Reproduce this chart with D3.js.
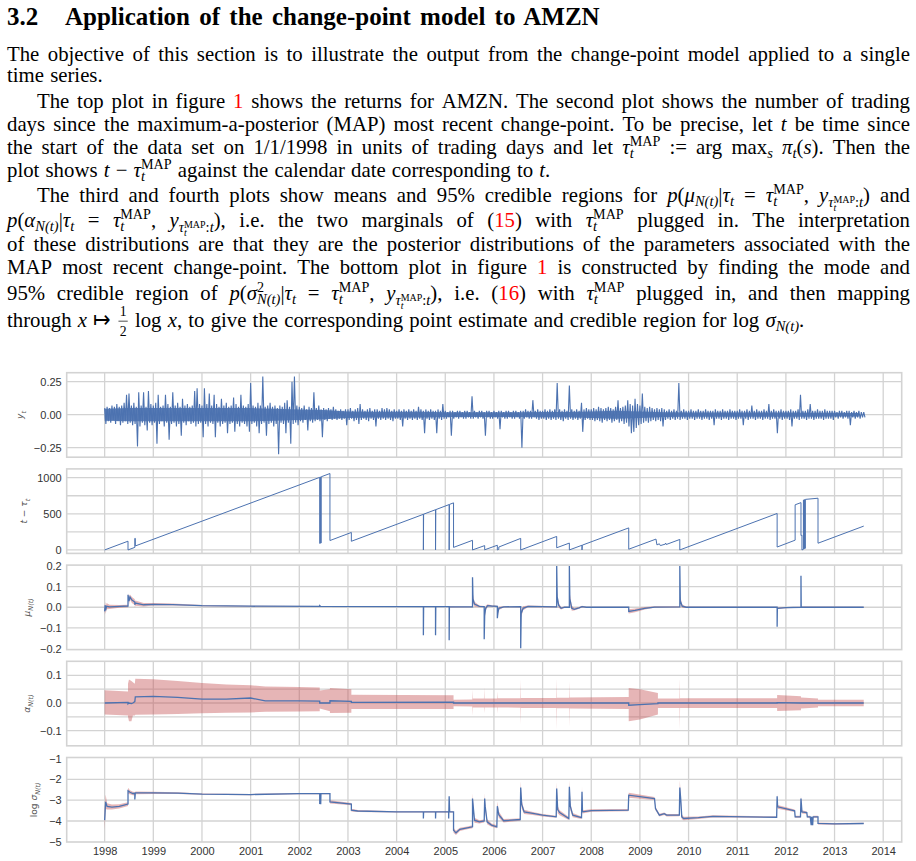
<!DOCTYPE html>
<html>
<head>
<meta charset="utf-8">
<script src="https://cdn.jsdelivr.net/npm/d3@7"></script>
<style>
  body { margin: 0; background: #fff; }
  svg { display: block; }
</style>
</head>
<body>
<svg id="page" width="916" height="861"></svg>
<script>
// ---------------- data ----------------
var yearTicks = [1998, 1999, 2000, 2001, 2002, 2003, 2004, 2005, 2006, 2007,
                 2008, 2009, 2010, 2011, 2012, 2013, 2014];

// returns, in percent: local highs / lows every 0.05 year from 1998.0
var retStart = 1998, retStep = 0.05;
var retHi = [
  5,6,5,7,6,8,6,7,9,15,16,7,9,6,17,7,17,6,18,8,
  7,9,15,6,7,15,8,6,17,7,9,6,12,7,8,6,7,18,20,8,
  7,20,8,16,7,15,8,6,12,7,9,6,7,13,8,6,15,7,6,8,
  24,7,6,9,7,29,6,7,9,6,7,5,7,6,9,11,6,25,29,7,
  6,5,7,4,6,5,17,5,7,4,5,4,5,4,6,4,3,4,3,4,
  4,5,3,4,5,8,4,3,4,5,3,4,4,3,5,4,5,4,3,4,
  3,4,3,4,3,4,3,4,3,6,4,3,4,3,4,3,3,4,3,8,
  3,2,3,3,2,3,3,2,3,3,2,14,3,2,3,3,2,3,3,2,
  3,2,3,3,2,3,3,2,3,3,2,3,3,4,3,3,11,3,4,3,
  3,4,3,4,3,4,24,4,3,4,3,22,4,3,4,3,9,4,5,4,
  4,5,4,6,5,4,5,6,5,4,6,11,5,6,7,11,8,7,12,8,
  7,16,6,5,6,5,4,5,4,5,4,3,4,3,4,3,24,3,4,3,
  3,4,3,3,4,3,3,4,3,3,3,4,3,3,4,3,3,4,3,3,
  3,4,3,3,4,3,7,3,4,3,3,4,3,8,3,4,3,3,4,3,
  3,3,4,3,3,4,15,3,3,4,8,3,3,4,3,3,4,3,3,3,
  3,2,3,3,2,3,3,2,3,2,3,2,2
];
var retLo = [
  -7,-5,-6,-4,-7,-5,-8,-6,-5,-7,-6,-8,-7,-24,-9,-6,-8,-12,-6,-8,
  -6,-22,-7,-5,-9,-6,-19,-7,-6,-9,-7,-16,-6,-8,-5,-7,-6,-9,-7,-6,
  -17,-7,-9,-6,-7,-17,-6,-9,-7,-6,-14,-7,-6,-13,-7,-9,-6,-7,-9,-13,
  -7,-6,-9,-14,-7,-6,-16,-7,-6,-9,-7,-30,-6,-7,-14,-6,-22,-7,-6,-8,
  -5,-6,-4,-12,-5,-6,-5,-4,-5,-17,-4,-5,-3,-4,-3,-4,-3,-4,-3,-8,
  -4,-3,-5,-4,-7,-4,-3,-4,-5,-3,-4,-9,-3,-4,-3,-4,-3,-4,-5,-3,
  -3,-4,-9,-3,-4,-3,-4,-3,-4,-3,-4,-14,-3,-4,-3,-4,-14,-3,-4,-3,
  -3,-2,-16,-3,-2,-3,-2,-3,-3,-2,-3,-3,-2,-3,-2,-3,-16,-2,-3,-3,
  -2,-3,-11,-2,-3,-3,-2,-3,-3,-2,-3,-25,-3,-2,-3,-3,-2,-3,-4,-3,
  -3,-4,-3,-4,-3,-4,-3,-4,-5,-3,-4,-3,-4,-3,-4,-3,-13,-4,-3,-4,
  -4,-5,-4,-5,-6,-4,-5,-4,-6,-5,-4,-6,-5,-7,-6,-9,-14,-13,-10,-8,
  -7,-6,-5,-6,-5,-4,-5,-4,-5,-9,-4,-3,-4,-3,-4,-3,-4,-3,-3,-4,
  -3,-3,-4,-3,-3,-4,-3,-3,-4,-3,-8,-3,-3,-4,-3,-3,-4,-3,-3,-4,
  -3,-3,-8,-3,-4,-3,-3,-4,-3,-3,-4,-3,-3,-4,-3,-3,-14,-3,-4,-3,
  -3,-4,-9,-3,-3,-4,-3,-3,-4,-3,-3,-4,-3,-3,-3,-4,-3,-3,-3,-4,
  -2,-3,-2,-3,-2,-3,-8,-2,-3,-2,-3,-2,-2
];
// half-width of the solid core of the returns trace, percent, every 0.5 year
var retCoreStep = 0.5;
var retCore = [4.5, 5, 5, 5, 5, 5, 5, 4.5, 4, 3.5, 2.5, 2.2, 2.2, 2.2, 1.8, 1.8,
               1.8, 1.8, 2, 2, 2.5, 3, 2.5, 1.8, 1.6, 1.6, 1.6, 1.6, 1.6, 1.5, 1.4, 1.3];

// t - tau_t (trading days): [year, value]
var runLen = [
  [1998.00, 0], [1998.48, 121], [1998.48, 0], [1998.62, 35], [1998.62, 160],
  [1998.63, 160], [1998.63, 55], [2002.42, 1005], [2002.42, 90], [2002.43, 92],
  [2002.43, 1008], [2002.44, 1010], [2002.44, 95], [2002.45, 97], [2002.45, 1013],
  [2002.63, 1058], [2002.63, 130], [2003.07, 242], [2003.07, 120], [2004.55, 493],
  [2004.55, 0], [2004.555, 495], [2004.80, 557], [2004.80, 0], [2004.805, 558],
  [2005.08, 628], [2005.08, 0], [2005.085, 630], [2005.17, 652], [2005.17, 35],
  [2005.56, 133], [2005.56, 0], [2005.81, 60], [2005.81, 2], [2006.07, 65],
  [2006.07, 0], [2006.10, 8], [2006.10, 40], [2006.55, 160], [2006.55, 0],
  [2007.29, 187], [2007.29, 30], [2007.55, 95], [2007.55, 0], [2007.81, 65],
  [2007.81, 0], [2007.815, 66], [2008.77, 305], [2008.77, 10], [2009.33, 150],
  [2009.35, 70], [2009.40, 85], [2009.42, 60], [2009.52, 80], [2009.53, 95],
  [2009.54, 75], [2009.82, 145], [2009.82, 0], [2011.82, 505], [2011.82, 40],
  [2012.19, 135], [2012.19, 625], [2012.31, 655], [2012.31, 200], [2012.33, 205],
  [2012.33, 0], [2012.36, 8], [2012.36, 690], [2012.37, 692], [2012.37, 15],
  [2012.38, 18], [2012.38, 695], [2012.39, 697], [2012.39, 20], [2012.40, 23],
  [2012.40, 700], [2012.66, 716], [2012.66, 93], [2013.60, 330]
];

// mu_N(t): [year, mean, spread of 95% region]
var muRows = [
  [1998.00, -0.020, 0.020], [1998.01, 0.010, 0.018], [1998.02, -0.015, 0.018],
  [1998.04, 0.005, 0.015], [1998.10, 0.002, 0.010], [1998.30, 0.004, 0.007],
  [1998.48, 0.006, 0.006], [1998.48, 0.060, 0.006], [1998.50, 0.030, 0.018],
  [1998.52, 0.050, 0.012], [1998.56, 0.035, 0.014], [1998.62, 0.025, 0.014],
  [1998.62, 0.012, 0.014], [1998.63, 0.020, 0.013], [1998.80, 0.012, 0.008],
  [1999.00, 0.014, 0.006], [1999.40, 0.013, 0.005], [2000.00, 0.008, 0.003],
  [2001.00, 0.005, 0.002], [2002.42, 0.004, 0.002], [2002.42, 0.008, 0.003],
  [2002.44, 0.004, 0.002], [2004.55, 0.003, 0.002], [2004.55, -0.135, 0.000],
  [2004.555, 0.003, 0.002], [2004.80, 0.003, 0.002], [2004.80, -0.135, 0.000],
  [2004.805, 0.003, 0.002], [2005.08, 0.003, 0.002], [2005.08, -0.160, 0.000],
  [2005.085, 0.002, 0.003], [2005.56, 0.002, 0.002], [2005.56, 0.145, 0.000],
  [2005.57, 0.040, 0.020], [2005.60, 0.015, 0.012], [2005.70, 0.004, 0.004],
  [2005.80, 0.003, 0.003], [2005.80, -0.155, 0.000], [2005.81, -0.040, 0.020],
  [2005.83, -0.005, 0.012], [2005.87, 0.008, 0.006], [2005.95, 0.006, 0.004],
  [2006.07, 0.004, 0.003], [2006.07, -0.053, 0.000], [2006.08, -0.030, 0.015],
  [2006.10, -0.005, 0.008], [2006.20, 0.002, 0.003], [2006.55, 0.003, 0.002],
  [2006.55, -0.198, 0.000], [2006.56, -0.030, 0.020], [2006.60, -0.005, 0.010],
  [2006.70, 0.004, 0.004], [2007.29, 0.002, 0.003], [2007.29, 0.200, 0.000],
  [2007.30, 0.050, 0.025], [2007.33, 0.010, 0.012], [2007.38, -0.005, 0.006],
  [2007.45, 0.000, 0.004], [2007.55, 0.000, 0.003], [2007.55, 0.200, 0.000],
  [2007.56, 0.040, 0.025], [2007.60, -0.005, 0.012], [2007.65, -0.010, 0.006],
  [2007.75, -0.003, 0.004], [2007.81, 0.003, 0.004], [2007.90, 0.000, 0.003],
  [2008.77, 0.000, 0.003], [2008.77, -0.020, 0.010], [2008.90, -0.015, 0.009],
  [2009.10, -0.005, 0.006], [2009.30, 0.001, 0.004], [2009.82, 0.002, 0.003],
  [2009.82, 0.200, 0.000], [2009.83, 0.030, 0.022], [2009.87, 0.005, 0.008],
  [2009.95, 0.000, 0.004], [2011.82, 0.000, 0.002], [2011.82, -0.094, 0.000],
  [2011.825, -0.005, 0.004], [2012.00, -0.002, 0.003], [2012.31, 0.000, 0.002],
  [2012.31, 0.152, 0.000], [2012.315, 0.001, 0.003], [2013.60, 0.000, 0.002]
];

// alpha_N(t): [year, mean, lower, upper]
var alphaRows = [
  [1998.00, 0.000, -0.042, 0.046], [1998.48, 0.002, -0.045, 0.042],
  [1998.48, -0.003, -0.050, 0.070], [1998.50, 0.000, -0.066, 0.085],
  [1998.55, -0.002, -0.066, 0.080], [1998.58, 0.000, -0.045, 0.075],
  [1998.62, 0.005, -0.045, 0.070], [1998.63, 0.022, -0.043, 0.088],
  [1999.00, 0.024, -0.042, 0.086], [1999.50, 0.020, -0.040, 0.080],
  [2000.00, 0.014, -0.037, 0.072], [2000.50, 0.014, -0.035, 0.067],
  [2001.00, 0.018, -0.034, 0.064], [2001.30, 0.008, -0.032, 0.060],
  [2002.00, 0.008, -0.031, 0.058], [2002.42, 0.007, -0.030, 0.056],
  [2002.42, 0.000, -0.020, 0.045], [2002.63, 0.000, -0.030, 0.050],
  [2002.63, 0.008, -0.036, 0.054], [2003.07, 0.006, -0.035, 0.050],
  [2003.07, 0.002, -0.022, 0.030], [2005.17, 0.003, -0.022, 0.028],
  [2005.17, 0.000, -0.012, 0.012], [2005.555, 0.000, -0.013, 0.013],
  [2005.56, 0.000, -0.046, 0.048], [2005.565, 0.000, -0.016, 0.016],
  [2005.795, 0.000, -0.016, 0.016], [2005.80, 0.000, -0.036, 0.057],
  [2005.805, 0.000, -0.016, 0.016], [2006.065, 0.000, -0.016, 0.016],
  [2006.07, 0.000, -0.038, 0.042], [2006.075, 0.000, -0.016, 0.017],
  [2006.545, 0.000, -0.017, 0.017], [2006.55, 0.000, -0.078, 0.084],
  [2006.555, 0.000, -0.018, 0.018], [2007.285, 0.000, -0.018, 0.018],
  [2007.29, 0.000, -0.096, 0.090], [2007.295, 0.000, -0.019, 0.019],
  [2007.545, 0.000, -0.019, 0.019], [2007.55, 0.000, -0.085, 0.078],
  [2007.555, 0.000, -0.020, 0.020], [2008.77, 0.000, -0.022, 0.022],
  [2008.77, -0.008, -0.066, 0.054], [2009.00, -0.006, -0.060, 0.050],
  [2009.37, -0.002, -0.042, 0.036], [2009.37, 0.000, -0.018, 0.016],
  [2009.815, 0.000, -0.018, 0.016], [2009.82, 0.000, -0.096, 0.090],
  [2009.825, 0.000, -0.018, 0.017], [2011.82, 0.000, -0.018, 0.017],
  [2011.82, 0.001, -0.029, 0.029], [2012.31, 0.000, -0.026, 0.024],
  [2012.31, 0.000, -0.020, 0.020], [2012.66, 0.000, -0.016, 0.016],
  [2012.66, 0.000, -0.012, 0.012], [2013.60, 0.000, -0.012, 0.012]
];

// log sigma_N(t): [year, mode, spread of 95% region]
var logSigRows = [
  [1998.00, -3.96, 0.50], [1998.02, -3.08, 0.35], [1998.05, -3.30, 0.15],
  [1998.15, -3.33, 0.12], [1998.30, -3.30, 0.10], [1998.48, -3.19, 0.09],
  [1998.48, -2.55, 0.15], [1998.52, -2.62, 0.10], [1998.58, -2.68, 0.08],
  [1998.62, -2.68, 0.07], [1998.62, -2.97, 0.07], [1998.63, -2.65, 0.07],
  [1999.00, -2.65, 0.05], [1999.50, -2.66, 0.04], [2000.00, -2.71, 0.03],
  [2001.00, -2.73, 0.03], [2002.00, -2.69, 0.03], [2002.42, -2.69, 0.03],
  [2002.42, -3.19, 0.03], [2002.425, -2.69, 0.03], [2002.44, -2.69, 0.03],
  [2002.44, -3.19, 0.03], [2002.445, -2.69, 0.03], [2002.63, -2.69, 0.03],
  [2002.63, -3.08, 0.08], [2003.07, -3.19, 0.05], [2003.07, -3.48, 0.07],
  [2003.20, -3.52, 0.05], [2004.00, -3.56, 0.03], [2004.55, -3.56, 0.03],
  [2004.55, -3.88, 0.03], [2004.555, -3.56, 0.03], [2004.80, -3.56, 0.03],
  [2004.80, -3.88, 0.03], [2004.805, -3.56, 0.03], [2005.07, -3.56, 0.03],
  [2005.07, -3.88, 0.03], [2005.08, -2.81, 0.03], [2005.09, -3.56, 0.03],
  [2005.17, -3.56, 0.03], [2005.17, -4.44, 0.12], [2005.22, -4.57, 0.10],
  [2005.30, -4.40, 0.08], [2005.45, -4.33, 0.07], [2005.56, -4.28, 0.07],
  [2005.56, -2.92, 0.25], [2005.57, -3.19, 0.20], [2005.60, -3.96, 0.12],
  [2005.70, -4.04, 0.08], [2005.80, -4.00, 0.07], [2005.81, -2.92, 0.25],
  [2005.82, -3.30, 0.18], [2005.86, -4.04, 0.12], [2005.95, -4.20, 0.08],
  [2006.06, -4.28, 0.07], [2006.07, -3.29, 0.22], [2006.10, -3.70, 0.15],
  [2006.20, -3.99, 0.08], [2006.54, -3.93, 0.06], [2006.55, -2.39, 0.30],
  [2006.57, -3.20, 0.20], [2006.62, -3.56, 0.10], [2006.80, -3.64, 0.07],
  [2007.00, -3.72, 0.06], [2007.28, -3.80, 0.05], [2007.29, -2.44, 0.30],
  [2007.31, -3.45, 0.18], [2007.35, -3.60, 0.12], [2007.54, -3.88, 0.07],
  [2007.55, -2.36, 0.30], [2007.57, -3.30, 0.18], [2007.62, -3.72, 0.10],
  [2007.80, -3.84, 0.06], [2007.81, -2.60, 0.25], [2007.82, -3.56, 0.08],
  [2008.00, -3.50, 0.06], [2008.76, -3.48, 0.05], [2008.77, -2.76, 0.12],
  [2009.30, -2.92, 0.07], [2009.32, -3.40, 0.08], [2009.40, -3.72, 0.07],
  [2009.50, -3.65, 0.06], [2009.55, -3.72, 0.06], [2009.81, -3.72, 0.05],
  [2009.82, -2.39, 0.35], [2009.84, -3.00, 0.20], [2009.86, -3.80, 0.12],
  [2009.90, -3.88, 0.08], [2010.20, -3.84, 0.06], [2010.50, -3.78, 0.05],
  [2011.81, -3.82, 0.03], [2011.82, -2.81, 0.12], [2011.83, -3.32, 0.09],
  [2012.18, -3.51, 0.06], [2012.19, -3.80, 0.05], [2012.30, -3.80, 0.05],
  [2012.31, -2.92, 0.12], [2012.33, -3.56, 0.08], [2012.43, -3.60, 0.06],
  [2012.44, -3.80, 0.05], [2012.50, -3.80, 0.05], [2012.52, -4.20, 0.05],
  [2012.53, -3.80, 0.05], [2012.55, -4.20, 0.05], [2012.56, -3.80, 0.05],
  [2012.66, -3.80, 0.05], [2012.66, -4.12, 0.05], [2013.00, -4.14, 0.04],
  [2013.60, -4.12, 0.03]
];

// y-axis ticks / gridlines per panel
var retTicks = [-0.25, 0, 0.25];
var runTicks = [0, 500, 1000], runGrid = [0, 250, 500, 750, 1000];
var muTicks = [-0.2, -0.1, 0, 0.1, 0.2], muGrid = [-0.1, 0, 0.1];
var alphaTicks = [-0.1, 0, 0.1], alphaGrid = [-0.1, -0.05, 0, 0.05, 0.1];
var lsTicks = [-5, -4, -3, -2, -1], lsGrid = [-4, -3, -2];

// ---------------- text of the page ----------------
var svg = d3.select("#page");
var serif = '"Liberation Serif", "Times New Roman", serif';
var ctx = document.createElement("canvas").getContext("2d");

function textWidth(s, size, italic, bold) {
  ctx.font = (italic ? "italic " : "") + (bold ? "bold " : "") + size + "px " + serif;
  return ctx.measureText(s).width;
}

// segment helpers
function r(t) { return {t: t}; }
function it(t) { return {t: t, i: 1}; }
function red(t) { return {t: t, c: "#f00"}; }
function sb(t, i, s, v) { return {t: t, i: i === undefined ? 1 : i, s: s || 0.7, v: v === undefined ? 0.2 : v}; }
function sp(t) { return {t: t, s: 0.68, v: -0.4}; }
function tauMAP() { return [it("τ"), {st: [sp("MAP"), sb("t")]}]; }
function subN() { return sb("N(t)"); }
function yTau() {
  return [it("y"), sb("τ", 1, 0.7, 0.24),
          {st: [{t: "MAP", s: 0.48, v: 0.04}, {t: "t", i: 1, s: 0.48, v: 0.42}]},
          sb(":", 0, 0.7, 0.24), sb("t", 1, 0.7, 0.24)];
}
function cat() { return [].concat.apply([], arguments); }

var lines = [
  {y: 61, seg: [r("The objective of this section is to illustrate the output from the change-point model applied to a single")], j: 1},
  {y: 82, seg: [r("time series.")]},
  {y: 108, ind: 1, j: 1, seg: [r("The top plot in figure "), red("1"), r(" shows the returns for AMZN. The second plot shows the number of trading")]},
  {y: 131, j: 1, seg: [r("days since the maximum-a-posterior (MAP) most recent change-point. To be precise, let "), it("t"), r(" be time since")]},
  {y: 154, j: 1, seg: cat([r("the start of the data set on 1/1/1998 in units of trading days and let ")], tauMAP(),
      [r(" := arg max"), sb("s"), r(" "), it("π"), sb("t"), r("("), it("s"), r("). Then the")])},
  {y: 177, seg: cat([r("plot shows "), it("t"), r(" − ")], tauMAP(), [r(" against the calendar date corresponding to "), it("t"), r(".")])},
  {y: 202, ind: 1, j: 1, seg: cat([r("The third and fourth plots show means and 95% credible regions for "), it("p"), r("("), it("μ"), subN(),
      r("|"), it("τ"), sb("t"), r(" = ")], tauMAP(), [r(", ")], yTau(), [r(") and")])},
  {y: 227, j: 1, seg: cat([it("p"), r("("), it("α"), subN(), r("|"), it("τ"), sb("t"), r(" = ")], tauMAP(), [r(", ")], yTau(),
      [r("), i.e. the two marginals of ("), red("15"), r(") with ")], tauMAP(), [r(" plugged in. The interpretation")])},
  {y: 251, j: 1, seg: [r("of these distributions are that they are the posterior distributions of the parameters associated with the")]},
  {y: 274, j: 1, seg: [r("MAP most recent change-point. The bottom plot in figure "), red("1"), r(" is constructed by finding the mode and")]},
  {y: 300, j: 1, seg: cat([r("95% credible region of "), it("p"), r("("), it("σ"), {st: [sp("2"), subN()]}, r("|"), it("τ"), sb("t"), r(" = ")],
      tauMAP(), [r(", ")], yTau(), [r("), i.e. ("), red("16"), r(") with ")], tauMAP(), [r(" plugged in, and then mapping")])},
  {y: 327, seg: [r("through "), it("x"), r(" ↦ "), {fr: ["1", "2"]}, r(" log "), it("x"),
      r(", to give the corresponding point estimate and credible region for log "), it("σ"), subN(), r(".")]}
];

// body size: a plain full line set a little loose, as in the original
var textLeft = 7, textRight = 910, indent = 30;
var F = 16 * 845 / textWidth(lines[8].seg[0].t, 16);

function atomsOf(segs) {
  var out = [];
  segs.forEach(function(s) {
    if (s.st) {
      var w = d3.max(s.st, function(p) { return textWidth(p.t, F * (p.s || 1), p.i); });
      out.push({st: s.st, w: w});
    } else if (s.fr) {
      var wf = d3.max(s.fr, function(p) { return textWidth(p, F * 0.7); }) + 2;
      out.push({fr: s.fr, w: wf + 2});
    } else {
      s.t.split(/( )/).forEach(function(piece) {
        if (piece === "") return;
        out.push({t: piece, i: s.i, s: s.s || 1, v: s.v || 0, c: s.c,
                  space: piece === " ", w: textWidth(piece, F * (s.s || 1), s.i)});
      });
    }
  });
  return out;
}

lines.forEach(function(L) {
  var atoms = atomsOf(L.seg);
  var x0 = textLeft + (L.ind ? indent : 0);
  var natural = d3.sum(atoms, function(a) { return a.w; });
  var nSpace = atoms.filter(function(a) { return a.space; }).length;
  var extra = L.j ? (textRight - x0 - natural) / nSpace : 1;
  var g = svg.append("text").attr("font-family", serif).attr("fill", "#000");
  var x = x0;
  atoms.forEach(function(a) {
    if (a.space) { x += a.w + extra; return; }
    if (a.st) {
      a.st.forEach(function(p) {
        g.append("tspan").attr("x", x).attr("y", L.y + (p.v || 0) * F)
          .attr("font-size", F * (p.s || 1)).attr("font-style", p.i ? "italic" : null).text(p.t);
      });
    } else if (a.fr) {
      g.append("tspan").attr("x", x + a.w / 2).attr("y", L.y - 0.52 * F).attr("text-anchor", "middle")
        .attr("font-size", F * 0.66).text(a.fr[0]);
      g.append("tspan").attr("x", x + a.w / 2).attr("y", L.y + 0.42 * F).attr("text-anchor", "middle")
        .attr("font-size", F * 0.66).text(a.fr[1]);
      svg.append("line").attr("x1", x + 1).attr("x2", x + a.w - 1)
        .attr("y1", L.y - 0.28 * F).attr("y2", L.y - 0.28 * F).attr("stroke", "#000").attr("stroke-width", 0.7);
    } else {
      g.append("tspan").attr("x", x).attr("y", L.y + a.v * F)
        .attr("font-size", F * a.s).attr("font-style", a.i ? "italic" : null)
        .attr("fill", a.c || null).text(a.t);
    }
    x += a.w;
  });
});

// heading
var headSize = 25;
svg.append("text").attr("x", 7).attr("y", 25).attr("font-family", serif).attr("font-weight", "bold")
  .attr("font-size", headSize).text("3.2");
svg.append("text").attr("x", 65).attr("y", 25).attr("font-family", serif).attr("font-weight", "bold")
  .attr("font-size", headSize).attr("word-spacing", 3)
  .text("Application of the change-point model to AMZN");

// ---------------- figure ----------------
var blue = "#4C72B0", pink = "#C44E52", gridCol = "#d3d3d3";
var sans = '"Liberation Sans", Arial, sans-serif';
var plotLeft = 66.7, plotRight = 901.7, panelH = 84.5;
var panelTops = [372.7, 468.9, 565.1, 661.3, 757.5];

var x = d3.scaleLinear().domain([1997.22, 2014.38]).range([plotLeft, plotRight]);

var panels = [
  {domain: [-0.322, 0.318], ticks: retTicks, grid: retTicks, fmt: d3.format(".2f"), labX: 23,
   label: [{t: "y", i: 1}, {t: "t", i: 1, sub: 1}]},
  {domain: [-48, 1122], ticks: runTicks, grid: runGrid, fmt: d3.format("d"), labX: 27,
   label: [{t: "t − τ", i: 1}, {t: "t", i: 1, sub: 1}]},
  {domain: [-0.205, 0.204], ticks: muTicks, grid: muGrid, fmt: d3.format(".1f"), labX: 30,
   label: [{t: "μ", i: 1}, {t: "N(t)", i: 1, sub: 1}]},
  {domain: [-0.155, 0.151], ticks: alphaTicks, grid: alphaGrid, fmt: d3.format(".1f"), labX: 30,
   label: [{t: "α", i: 1}, {t: "N(t)", i: 1, sub: 1}]},
  {domain: [-5.01, -0.95], ticks: lsTicks, grid: lsGrid, fmt: d3.format("d"), labX: 37,
   label: [{t: "log "}, {t: "σ", i: 1}, {t: "N(t)", i: 1, sub: 1}]}
];

panels.forEach(function(p, k) {
  var top = panelTops[k];
  p.y = d3.scaleLinear().domain(p.domain).range([top + panelH, top]);
  var g = svg.append("g");
  p.g = g;

  g.selectAll("line.vg").data(yearTicks).enter().append("line")
    .attr("x1", function(d) { return x(d); }).attr("x2", function(d) { return x(d); })
    .attr("y1", top).attr("y2", top + panelH)
    .attr("stroke", gridCol).attr("stroke-width", 1.3);
  g.selectAll("line.hg").data(p.grid).enter().append("line")
    .attr("x1", plotLeft).attr("x2", plotRight)
    .attr("y1", function(d) { return p.y(d); }).attr("y2", function(d) { return p.y(d); })
    .attr("stroke", gridCol).attr("stroke-width", 1.3);
  g.append("rect").attr("x", plotLeft).attr("y", top).attr("width", plotRight - plotLeft)
    .attr("height", panelH).attr("fill", "none").attr("stroke", gridCol).attr("stroke-width", 1.6);

  var ax = g.append("g").attr("transform", "translate(" + plotLeft + ",0)")
    .call(d3.axisLeft(p.y).tickValues(p.ticks).tickFormat(p.fmt).tickSize(0).tickPadding(5));
  ax.select(".domain").remove();
  ax.selectAll("text").attr("font-family", sans).attr("font-size", 11).attr("fill", "#333");

  var lab = svg.append("text")
    .attr("transform", "translate(" + p.labX + "," + (top + panelH / 2) + ") rotate(-90)")
    .attr("text-anchor", "middle").attr("font-family", '"DejaVu Sans", sans-serif')
    .attr("font-size", 9).attr("fill", "#555");
  p.label.forEach(function(s) {
    lab.append("tspan").attr("font-style", s.i ? "italic" : null)
      .attr("font-size", s.sub ? 6.5 : 9).attr("dy", s.sub ? 2.5 : 0).text(s.t);
  });
});

// bottom x axis
var xa = svg.append("g").attr("transform", "translate(0," + (panelTops[4] + panelH) + ")")
  .call(d3.axisBottom(x).tickValues(yearTicks).tickFormat(d3.format("d")).tickSize(0).tickPadding(5));
xa.select(".domain").remove();
xa.selectAll("text").attr("font-family", sans).attr("font-size", 11).attr("fill", "#333");

// panel 1: returns (solid core plus highs / lows)
var p1 = panels[0];
p1.g.append("path").datum(retCore)
  .attr("d", d3.area().x(function(d, i) { return x(retStart + i * retCoreStep); })
    .y0(function(d) { return p1.y(-d / 100); }).y1(function(d) { return p1.y(d / 100); }))
  .attr("fill", blue).attr("fill-opacity", 0.9);
var retPts = [];
retHi.forEach(function(h, i) {
  var t = retStart + i * retStep;
  retPts.push([t, h / 100]);
  retPts.push([t + retStep / 2, retLo[i] / 100]);
});
p1.g.append("path").datum(retPts)
  .attr("d", d3.line().x(function(d) { return x(d[0]); }).y(function(d) { return p1.y(d[1]); }))
  .attr("fill", "none").attr("stroke", blue).attr("stroke-width", 1.1);

// panel 2: run length
var p2 = panels[1];
p2.g.append("path").datum(runLen)
  .attr("d", d3.line().x(function(d) { return x(d[0]); }).y(function(d) { return p2.y(d[1]); }))
  .attr("fill", "none").attr("stroke", blue).attr("stroke-width", 1);

// panels 3-5: band + line
function bandAndLine(p, rows, lo, hi) {
  p.g.append("path").datum(rows)
    .attr("d", d3.area().x(function(d) { return x(d[0]); })
      .y0(function(d) { return p.y(lo(d)); }).y1(function(d) { return p.y(hi(d)); }))
    .attr("fill", pink).attr("fill-opacity", 0.42).attr("stroke", "none");
  p.g.append("path").datum(rows)
    .attr("d", d3.line().x(function(d) { return x(d[0]); }).y(function(d) { return p.y(d[1]); }))
    .attr("fill", "none").attr("stroke", blue).attr("stroke-width", 1.3);
}
bandAndLine(panels[2], muRows, function(d) { return d[1] - d[2]; }, function(d) { return d[1] + d[2]; });
bandAndLine(panels[3], alphaRows, function(d) { return d[2]; }, function(d) { return d[3]; });
bandAndLine(panels[4], logSigRows, function(d) { return d[1] - d[2]; }, function(d) { return d[1] + d[2]; });
</script>
</body>
</html>
